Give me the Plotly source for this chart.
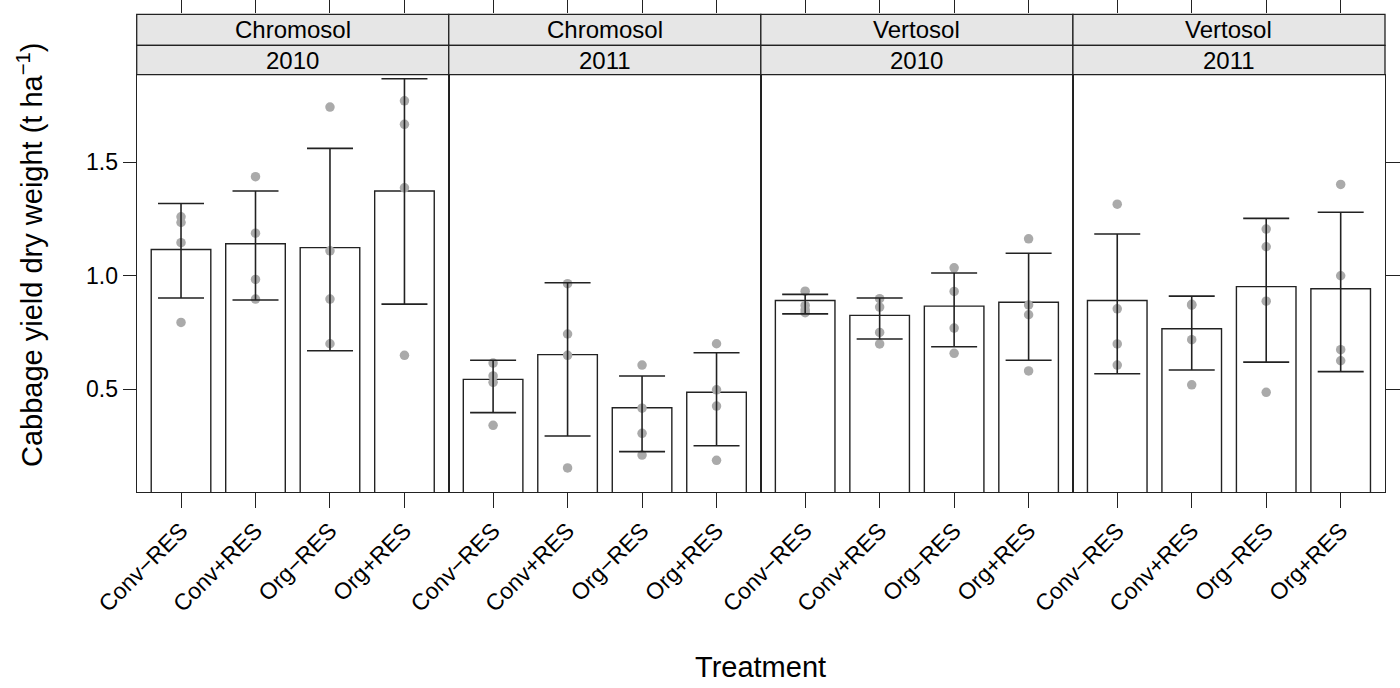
import plotly.graph_objects as go

treatments = ["Conv\u2212RES", "Conv+RES", "Org\u2212RES", "Org+RES"]
soils = ["Chromosol", "Chromosol", "Vertosol", "Vertosol"]
years = ["2010", "2011", "2010", "2011"]

means = [
    [1.116, 1.141, 1.124, 1.374],
    [0.543, 0.652, 0.418, 0.486],
    [0.891, 0.825, 0.866, 0.883],
    [0.891, 0.766, 0.952, 0.943],
]
upper = [
    [1.319, 1.374, 1.562, 1.869],
    [0.627, 0.969, 0.558, 0.660],
    [0.918, 0.902, 1.012, 1.099],
    [1.184, 0.910, 1.253, 1.280],
]
lower = [
    [0.902, 0.893, 0.669, 0.875],
    [0.396, 0.293, 0.224, 0.250],
    [0.832, 0.721, 0.687, 0.627],
    [0.568, 0.584, 0.619, 0.577],
]
points = [
    [[1.260, 1.235, 1.146, 0.794], [1.437, 1.188, 0.984, 0.897],
     [1.744, 1.110, 0.897, 0.700], [1.772, 1.668, 1.388, 0.649]],
    [[0.615, 0.558, 0.530, 0.340], [0.965, 0.743, 0.649, 0.152],
     [0.606, 0.416, 0.305, 0.209], [0.700, 0.497, 0.425, 0.186]],
    [[0.932, 0.869, 0.850, 0.837], [0.899, 0.862, 0.750, 0.699],
     [1.035, 0.931, 0.769, 0.658], [1.163, 0.871, 0.828, 0.580]],
    [[1.316, 0.854, 0.699, 0.606], [0.874, 0.870, 0.718, 0.519],
     [1.206, 1.128, 0.888, 0.486], [1.403, 1.000, 0.674, 0.625]],
]
ytick_vals = [0.5, 1.0, 1.5]
ytick_text = ["0.5", "1.0", "1.5"]

W, H = 1400, 688
FONT = "Liberation Sans, Arial, sans-serif"
LINE = "#222222"
px_left, px_right = 136.7, 1385.0
px_top, px_bottom = 74.7, 492.0
strip_mid, strip_top = 45.3, 14.3
pw = (px_right - px_left) / 4
xs = [1, 2, 3, 4]
xr = [0.405, 4.595]
yr = [0.046, 1.887]

def py(p):
    return 1 - p / H

fig = go.Figure()
layout = dict(
    width=W, height=H, margin=dict(l=0, r=0, t=0, b=0, autoexpand=False),
    paper_bgcolor="white", plot_bgcolor="white", showlegend=False,
    font=dict(family=FONT, color="black", size=23),
)
shapes, annotations = [], []

for i in range(4):
    n = i + 1
    xa = "x" if n == 1 else f"x{n}"
    ya = "y" if n == 1 else f"y{n}"
    d0 = (px_left + i * pw) / W
    d1 = (px_left + (i + 1) * pw) / W
    fig.add_trace(go.Bar(
        x=xs, y=means[i], width=0.8, xaxis=xa, yaxis=ya,
        marker=dict(color="white", line=dict(color=LINE, width=1.4)),
    ))
    px_, py_ = [], []
    for j in range(4):
        for v in points[i][j]:
            px_.append(xs[j]); py_.append(v)
    fig.add_trace(go.Scatter(
        x=px_, y=py_, mode="markers", xaxis=xa, yaxis=ya,
        marker=dict(color="#aaaaaa", size=9.5, line=dict(width=0)),
    ))
    fig.add_trace(go.Scatter(
        x=xs, y=means[i], mode="markers", xaxis=xa, yaxis=ya,
        marker=dict(size=1, opacity=0),
        error_y=dict(type="data", symmetric=False,
                     array=[u - m for u, m in zip(upper[i], means[i])],
                     arrayminus=[m - l for m, l in zip(means[i], lower[i])],
                     color=LINE, thickness=1.6, width=23),
    ))
    layout[f"xaxis{n if n > 1 else ''}"] = dict(
        domain=[d0, d1], range=xr, anchor=ya, tickvals=xs, ticktext=treatments,
        tickangle=-45, ticks="outside", ticklen=15, tickwidth=1.3, tickcolor=LINE,
        showline=True, linecolor=LINE, linewidth=1.3, mirror=True,
        showgrid=False, zeroline=False, tickfont=dict(size=23), automargin=False,
    )
    yd = dict(
        domain=[py(px_bottom), py(px_top)], range=yr, anchor=xa,
        showline=True, linecolor=LINE, linewidth=1.3, mirror=True,
        showgrid=False, zeroline=False, tickvals=ytick_vals, ticktext=ytick_text,
        tickfont=dict(size=23), automargin=False,
    )
    if n == 1:
        yd.update(ticks="outside", ticklen=13, tickwidth=1.3, tickcolor=LINE,
                  showticklabels=True, side="left")
    elif n == 4:
        yd.update(ticks="outside", ticklen=14, tickwidth=1.3, tickcolor=LINE,
                  showticklabels=False, side="right")
    else:
        yd.update(ticks="", showticklabels=False)
    if n > 1:
        yd["matches"] = "y"
    layout[f"yaxis{n if n > 1 else ''}"] = yd

    # top tick axis above the strips
    tn = n + 4
    layout[f"xaxis{tn}"] = dict(
        domain=[d0, d1], range=xr, anchor=f"y{tn}", side="top", tickvals=xs,
        showticklabels=False, ticks="outside", ticklen=14, tickwidth=1.3,
        tickcolor=LINE, showline=False, showgrid=False, zeroline=False,
        automargin=False,
    )
    layout[f"yaxis{tn}"] = dict(
        domain=[py(strip_mid), py(strip_top)], range=[0, 1], anchor=f"x{tn}",
        visible=False, showgrid=False, zeroline=False, automargin=False,
    )
    fig.add_trace(go.Scatter(x=[None], y=[None], xaxis=f"x{tn}", yaxis=f"y{tn}",
                             mode="markers", hoverinfo="skip"))

    # strips
    for (t0, t1, label) in [(strip_top, strip_mid, soils[i]), (strip_mid, px_top, years[i])]:
        shapes.append(dict(type="rect", xref="paper", yref="paper",
                           x0=d0, x1=d1, y0=py(t1), y1=py(t0),
                           fillcolor="#e6e6e6", line=dict(color=LINE, width=1.3)))
        annotations.append(dict(xref="paper", yref="paper", x=(d0 + d1) / 2,
                                y=py((t0 + t1) / 2), text=label, showarrow=False,
                                font=dict(size=24, family=FONT, color="black"),
                                xanchor="center", yanchor="middle"))

annotations.append(dict(xref="paper", yref="paper", x=30 / W, y=py(255),
                        text="Cabbage yield dry weight (t ha<sup>\u22121</sup>)",
                        textangle=-90, showarrow=False,
                        font=dict(size=29, family=FONT, color="black"),
                        xanchor="center", yanchor="middle"))
annotations.append(dict(xref="paper", yref="paper", x=(px_left + px_right) / 2 / W,
                        y=py(667), text="Treatment", showarrow=False,
                        font=dict(size=29, family=FONT, color="black"),
                        xanchor="center", yanchor="middle"))

layout["shapes"] = shapes
layout["annotations"] = annotations
fig.update_layout(**layout)
fig.write_html("out.html",
               config={"displayModeBar": False},
               post_script="document.body.style.margin='0px';"
                           "document.body.style.overflow='hidden';")
